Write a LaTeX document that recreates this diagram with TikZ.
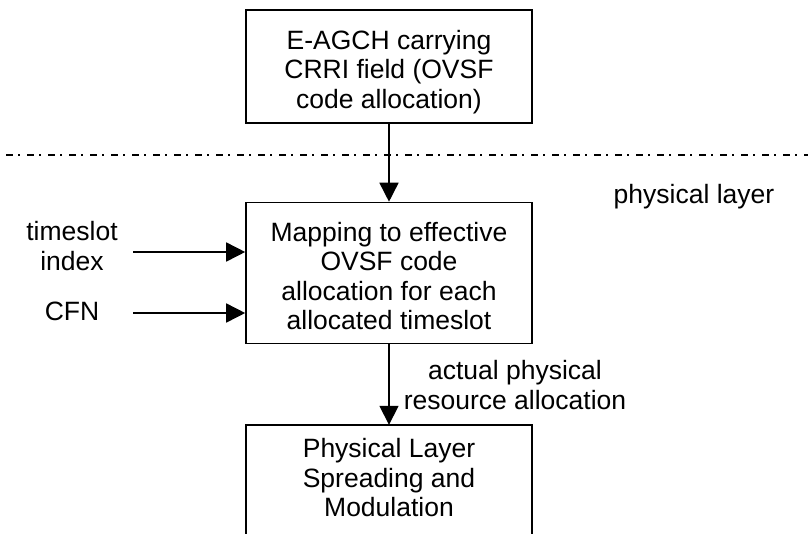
\documentclass[tikz,border=0pt]{standalone}
\usepackage{fontspec}
\setmainfont{Liberation Sans}
\usetikzlibrary{arrows.meta}
\begin{document}
\begin{tikzpicture}[x=1pt,y=-1pt,
  txt/.style={font=\fontsize{26.5}{29.5}\selectfont, align=center, inner sep=0pt},
  blockbox/.style={txt, draw, line width=1.6pt, minimum width=286pt},
  arr/.style={line width=1.6pt, -{Triangle[length=19pt,width=19pt]}},
  layerline/.style={line width=1.4pt, dash pattern=on 7pt off 5pt on 2pt off 7pt}]
\useasboundingbox (0,0) rectangle (808,533);
\node[blockbox, minimum height=113pt] (top) at (389,66.5) {\rule{0pt}{30pt}E-AGCH carrying\\CRRI field (OVSF\\code allocation)};
\node[blockbox, minimum height=141pt] (mid) at (389,273) {\rule{0pt}{25pt}Mapping to effective\\OVSF code\\allocation for each\\allocated timeslot};
\node[txt, minimum width=286pt, minimum height=106pt] (bot) at (389,478) {Physical Layer\\Spreading and\\Modulation};
\draw[line width=1.6pt] ([yshift=-20pt]bot.south west) -- (bot.north west) -- (bot.north east) -- ([yshift=-20pt]bot.south east);
\coordinate (ll) at (6,155);
\coordinate (lr) at (808,155);
\draw[layerline] (ll) -- (lr);
\node[txt] (phy) at (694,197) {physical layer};
\node[txt] (ts) at (72,246) {timeslot\\index};
\node[txt] (cfn) at (72,311) {CFN};
\coordinate (tsin) at (133,252);
\coordinate (cfnin) at (133,313);
\draw[arr] (tsin) -- (mid.west |- tsin);
\draw[arr] (cfnin) -- (mid.west |- cfnin);
\draw[arr] (top.south) -- (mid.north);
\draw[arr] (mid.south) -- (bot.north);
\node[txt] (act) at (515,385) {actual physical\\resource allocation};
\end{tikzpicture}
\end{document}
